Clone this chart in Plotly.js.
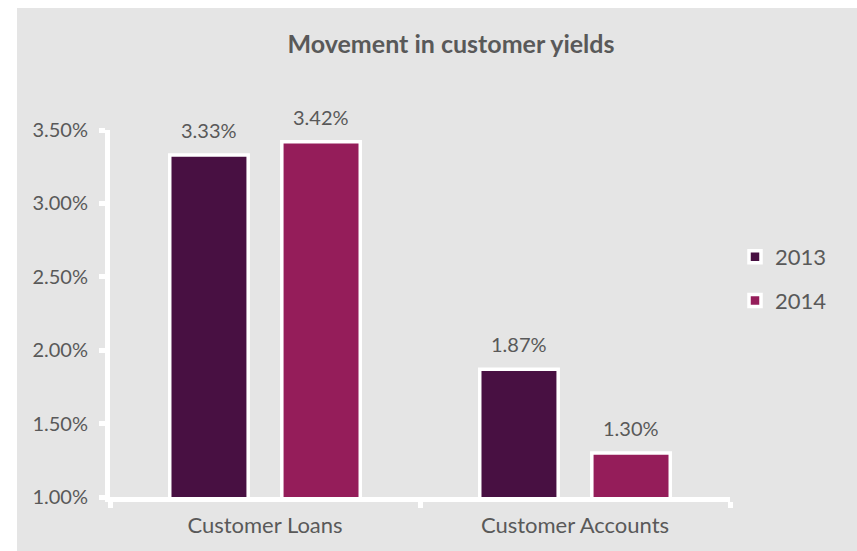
<!DOCTYPE html>
<html>
<head>
<meta charset="utf-8">
<script src="https://cdn.plot.ly/plotly-3.0.1.min.js"></script>
<style>html,body{margin:0;padding:0;background:#fff;}#chart{width:857px;height:551px;}</style>
</head>
<body>
<div id="chart"></div>
<script>
const categories = ["Customer Loans", "Customer Accounts"];
const seriesNames = ["2013", "2014"];
const values2013 = [3.33, 1.87];
const values2014 = [3.42, 1.30];
const colors = ["#481042", "#951d5a"];
const yTickVals = [1.0, 1.5, 2.0, 2.5, 3.0, 3.5];
const yTickText = ["1.00%", "1.50%", "2.00%", "2.50%", "3.00%", "3.50%"];

const fontFam = "Lato, 'Open Sans', sans-serif";
const textColor = "#595959";
const seriesValues = [values2013, values2014];

const traces = seriesNames.map((name, i) => ({
  type: "bar",
  name: name,
  x: categories,
  y: seriesValues[i],
  marker: {color: colors[i], line: {color: "#ffffff", width: 3.5}},
  legendgroup: "g" + i,
  hoverinfo: "skip"
}));

const L = 110, R = 127, T = 130, B = 54, W = 857, H = 551;
const pw = W - L - R, ph = H - T - B;

const xShifts = [-56, 56];
const annotations = [];
seriesNames.forEach((name, i) => {
  seriesValues[i].forEach((v, j) => {
    annotations.push({
      x: categories[j], y: v, xref: "x", yref: "y",
      text: v.toFixed(2) + "%", showarrow: false,
      xshift: xShifts[i], yshift: 25, yanchor: "middle", xanchor: "center",
      font: {family: fontFam, size: 20, color: textColor}
    });
  });
});

const layout = {
  width: W, height: H,
  margin: {l: L, r: R, t: T, b: B, pad: 0},
  paper_bgcolor: "#ffffff",
  plot_bgcolor: "rgba(0,0,0,0)",
  font: {family: fontFam, size: 20, color: textColor},
  title: {
    text: "<b>Movement in customer yields</b>",
    font: {family: fontFam, size: 25, color: textColor},
    x: 451 / W, xanchor: "center", y: 1 - 44 / H, yanchor: "middle"
  },
  barmode: "group",
  bargap: 0.277,
  bargroupgap: 0.30,
  annotations: annotations,
  xaxis: {
    type: "category",
    showline: true, linecolor: "#ffffff", linewidth: 5,
    ticks: "outside", tickson: "boundaries", ticklen: 6, tickwidth: 5, tickcolor: "#ffffff",
    showgrid: false, zeroline: false,
    tickfont: {family: fontFam, size: 22, color: textColor},
    ticklabelstandoff: 5
  },
  yaxis: {
    range: [1.0, 3.5],
    tickvals: yTickVals, ticktext: yTickText,
    showline: true, linecolor: "#ffffff", linewidth: 5,
    ticks: "outside", ticklen: 6, tickwidth: 5, tickcolor: "#ffffff",
    showgrid: false, zeroline: false,
    tickfont: {family: fontFam, size: 20, color: textColor},
    ticklabelstandoff: 7
  },
  legend: {
    x: (735 - L) / pw, xanchor: "left",
    y: (H - B - 236) / ph, yanchor: "top",
    bgcolor: "rgba(0,0,0,0)",
    font: {family: fontFam, size: 22, color: textColor},
    traceorder: "grouped",
    tracegroupgap: 12,
    itemwidth: 30
  },
  shapes: [{
    type: "rect", layer: "below", xref: "paper", yref: "paper",
    x0: (17 - L) / pw, x1: (W + 5 - L) / pw,
    y0: -(B + 5) / ph, y1: (H - B - 8) / ph,
    fillcolor: "#e5e5e5", line: {width: 0}
  }]
};

Plotly.newPlot("chart", traces, layout, {displayModeBar: false, staticPlot: true});
</script>
</body>
</html>
